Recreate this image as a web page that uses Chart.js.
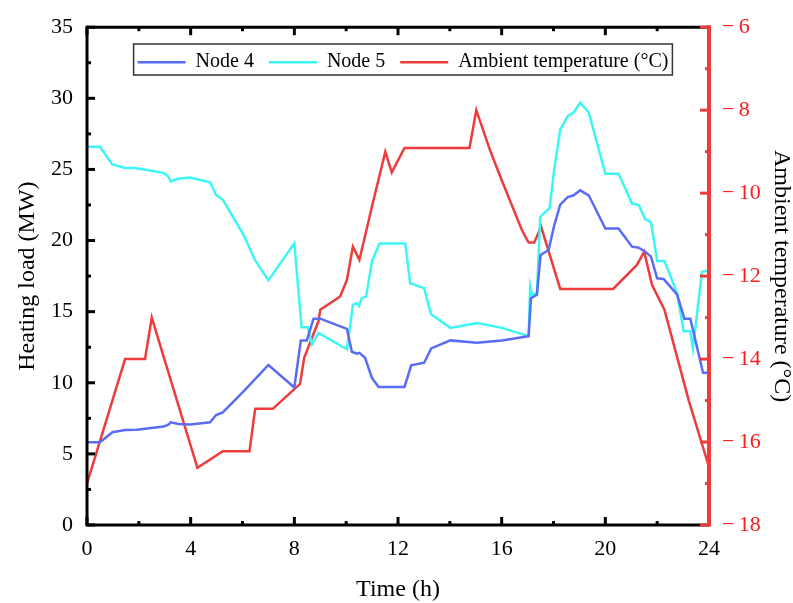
<!DOCTYPE html>
<html>
<head>
<meta charset="utf-8">
<script src="https://cdn.jsdelivr.net/npm/chart.js@4/dist/chart.umd.min.js"></script>
<style>
  html, body { margin: 0; padding: 0; background: #fff; }
  #wrap { width: 793px; height: 603px; }
</style>
</head>
<body>
<div id="wrap"><canvas id="chart"></canvas></div>
<script>
// Heating load of node 4 (MW)
const node4Time = [0, 0.5, 0.98, 1.47, 1.92, 2.95, 3.14, 3.23, 3.53, 3.98, 4.75, 4.98, 5.24, 6.04, 7.0, 8.0,
  8.25, 8.48, 8.74, 9.0, 10.03, 10.22, 10.41, 10.51, 10.73, 10.99, 11.25, 12.25, 12.51, 13.01, 13.28, 14.02,
  15.05, 16.01, 17.04, 17.13, 17.36, 17.5, 17.81, 18.03, 18.26, 18.55, 18.78, 19.03, 19.36, 20.0, 20.51,
  21.03, 21.29, 21.54, 21.76, 22.0, 22.25, 22.77, 23.05, 23.28, 23.77, 24.0];
const node4Load = [5.82, 5.82, 6.52, 6.68, 6.7, 6.92, 7.06, 7.22, 7.1, 7.06, 7.22, 7.73, 7.92, 9.4, 11.25, 9.67,
  12.98, 12.98, 14.51, 14.51, 13.79, 12.18, 12.04, 12.1, 11.76, 10.36, 9.71, 9.71, 11.23, 11.41, 12.42, 12.98,
  12.81, 12.98, 13.28, 15.95, 16.19, 18.98, 19.34, 21.08, 22.52, 23.06, 23.18, 23.53, 23.18, 20.85, 20.85,
  19.57, 19.5, 19.22, 18.87, 17.35, 17.3, 16.19, 14.51, 14.51, 10.71, 10.71];

// Heating load of node 5 (MW)
const node5Time = [0, 0.5, 0.98, 1.47, 1.85, 2.95, 3.14, 3.23, 3.53, 3.98, 4.75, 4.98, 5.24, 6.04, 6.49, 7.0,
  8.0, 8.28, 8.52, 8.68, 8.93, 10.03, 10.26, 10.41, 10.5, 10.6, 10.77, 11.0, 11.29, 12.28, 12.47, 13.01, 13.27,
  14.02, 15.05, 16.01, 17.04, 17.1, 17.17, 17.36, 17.49, 17.85, 18.03, 18.26, 18.55, 18.78, 19.03, 19.36,
  20.0, 20.51, 21.03, 21.29, 21.54, 21.76, 22.0, 22.28, 22.77, 23.02, 23.28, 23.38, 23.73, 24.0];
const node5Load = [26.6, 26.6, 25.35, 25.1, 25.1, 24.76, 24.5, 24.15, 24.34, 24.43, 24.1, 23.2, 22.87, 20.4, 18.6, 17.2,
  19.8, 13.9, 13.9, 12.7, 13.5, 12.35, 15.5, 15.6, 15.4, 15.95, 16.07, 18.57, 19.8, 19.8, 17.0, 16.65, 14.84,
  13.86, 14.2, 13.86, 13.28, 16.77, 16.2, 16.3, 21.66, 22.3, 25.04, 27.8, 28.77, 29.0, 29.7, 29.0,
  24.7, 24.7, 22.6, 22.5, 21.5, 21.3, 18.57, 18.57, 16.3, 13.63, 13.63, 12.4, 17.8, 17.9];

// Ambient temperature (degC)
const tempTime = [0, 1.47, 2.24, 2.5, 4.26, 5.24, 6.27, 6.49, 7.17, 8.22, 8.38, 8.93, 9.0, 9.77, 10.03, 10.26,
  10.51, 10.99, 11.51, 11.76, 12.25, 14.76, 15.02, 15.56, 16.01, 16.78, 17.04, 17.26, 17.52, 18.26, 20.3,
  21.22, 21.5, 21.8, 22.28, 23.22, 24.0];
const tempValue = [-17.0, -14.0, -14.0, -13.0, -16.62, -16.22, -16.22, -15.2, -15.2, -14.6, -13.97, -13.09, -12.81,
  -12.49, -12.09, -11.29, -11.61, -10.34, -9.0, -9.5, -8.91, -8.91, -8.0, -8.98, -9.7, -10.89, -11.19, -11.19,
  -10.81, -12.31, -12.31, -11.73, -11.41, -12.21, -12.81, -15.0, -16.6];

const seriesNames = ['Node 4', 'Node 5', 'Ambient temperature (\u00B0C)'];

const BLUE = '#5a6cf5';
const CYAN = '#3cf6f6';
const RED = '#ee3b3b';
const FONT = 'Liberation Serif';

function toPoints(xs, ys) {
  return xs.map((x, i) => ({ x: x, y: ys[i] }));
}

// inward ticks, frame and legend box
const frameTicks = {
  id: 'frameTicks',
  beforeLayout(chart) {
    // lay the in-plot legend out as one row
    if (chart.legend) chart.legend.isHorizontal = () => true;
  },
  afterLayout(chart) {
    const lg = chart.legend;
    if (!lg) return;
    lg.top = chart.chartArea.top + 10;
    lg.left += 92;
    lg.right += 92;
  },
  afterDraw(chart) {
    const { ctx, chartArea: a, scales } = chart;
    const seg = (x1, y1, x2, y2) => {
      ctx.beginPath();
      ctx.moveTo(x1, y1);
      ctx.lineTo(x2, y2);
      ctx.stroke();
    };
    ctx.save();

    // legend frame
    const hb = chart.legend.legendHitBoxes;
    if (hb && hb.length) {
      const l = hb[0].left - 4;
      const last = hb[hb.length - 1];
      const r = last.left + last.width + 4;
      ctx.strokeStyle = '#333';
      ctx.lineWidth = 1.5;
      ctx.strokeRect(l, 44, r - l, 31);
    }

    ctx.lineWidth = 3;
    ctx.strokeStyle = '#000';
    // x ticks (bottom and top)
    const xs = scales.x;
    for (let v = xs.min; v <= xs.max; v += 2) {
      const px = xs.getPixelForValue(v);
      const len = v % 4 === 0 ? 8 : 4;
      seg(px, a.bottom, px, a.bottom - len);
      seg(px, a.top, px, a.top + len);
    }
    // left ticks
    const ys = scales.y;
    for (let v = ys.min; v <= ys.max; v += 2.5) {
      const py = ys.getPixelForValue(v);
      const len = v % 5 === 0 ? 8 : 4;
      seg(a.left, py, a.left + len, py);
    }
    seg(a.left - 1.5, a.bottom, a.right, a.bottom);
    seg(a.left, a.bottom, a.left, a.top - 1.5);
    seg(a.left, a.top, a.right, a.top);

    // right axis (temperature)
    ctx.strokeStyle = RED;
    const y1 = scales.y1;
    for (let v = y1.min; v <= y1.max; v += 1) {
      const py = y1.getPixelForValue(v);
      const len = v % 2 === 0 ? 9 : 4;
      seg(a.right, py, a.right - len, py);
    }
    ctx.lineWidth = 4;
    seg(a.right, a.top - 2, a.right, a.bottom + 1.5);
    ctx.restore();
  }
};

const ctx = document.getElementById('chart').getContext('2d');

new Chart(ctx, {
  type: 'line',
  data: {
    datasets: [
      {
        label: seriesNames[0],
        data: toPoints(node4Time, node4Load),
        borderColor: BLUE,
        backgroundColor: BLUE,
        yAxisID: 'y'
      },
      {
        label: seriesNames[1],
        data: toPoints(node5Time, node5Load),
        borderColor: CYAN,
        backgroundColor: CYAN,
        yAxisID: 'y'
      },
      {
        label: seriesNames[2],
        data: toPoints(tempTime, tempValue),
        borderColor: RED,
        backgroundColor: RED,
        yAxisID: 'y1'
      }
    ]
  },
  options: {
    responsive: true,
    maintainAspectRatio: false,
    animation: false,
    datasets: {
      line: {
        borderWidth: 2.5,
        pointRadius: 0,
        pointStyle: 'line',
        tension: 0,
        fill: false
      }
    },
    layout: { padding: { top: 24, left: 0, right: 0, bottom: 0 } },
    plugins: {
      legend: {
        position: 'chartArea',
        align: 'center',
        labels: {
          usePointStyle: true,
          pointStyleWidth: 48,
          padding: 15,
          color: '#000',
          font: { family: FONT, size: 20 }
        }
      },
      tooltip: { enabled: false }
    },
    scales: {
      x: {
        type: 'linear',
        min: 0,
        max: 24,
        grid: { display: false, drawTicks: false },
        border: { display: false },
        ticks: {
          stepSize: 4,
          padding: 11,
          color: '#000',
          font: { family: FONT, size: 22 }
        },
        title: {
          display: true,
          text: 'Time (h)',
          color: '#000',
          font: { family: FONT, size: 24, lineHeight: 1 },
          padding: { top: 0, bottom: 1 }
        },
        afterFit: s => { s.height = 78; }
      },
      y: {
        type: 'linear',
        position: 'left',
        min: 0,
        max: 35,
        grid: { display: false, drawTicks: false },
        border: { display: false },
        ticks: {
          stepSize: 5,
          padding: 14,
          color: '#000',
          font: { family: FONT, size: 22 }
        },
        title: {
          display: true,
          text: 'Heating load (MW)',
          color: '#000',
          font: { family: FONT, size: 24, lineHeight: 1 },
          padding: { top: 16, bottom: 0 }
        },
        afterFit: s => { s.width = 87; }
      },
      y1: {
        type: 'linear',
        position: 'right',
        min: -18,
        max: -6,
        grid: { display: false, drawTicks: false },
        border: { display: false },
        ticks: {
          stepSize: 2,
          padding: 13,
          color: '#ff1a1a',
          font: { family: FONT, size: 22 },
          callback: v => (v < 0 ? '\u2212' + '\u2009' + Math.abs(v) : String(v))
        },
        title: {
          display: true,
          text: 'Ambient temperature (\u00B0C)',
          color: '#000',
          font: { family: FONT, size: 24, lineHeight: 1 },
          padding: { top: 0, bottom: 0 }
        },
        afterFit: s => { s.width = 84; }
      }
    }
  },
  plugins: [frameTicks]
});
</script>
</body>
</html>
